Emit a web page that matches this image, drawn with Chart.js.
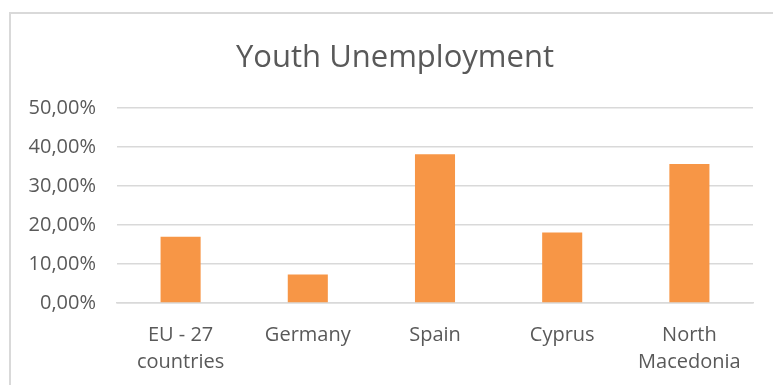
<!DOCTYPE html>
<html lang="en">
<head>
    <meta charset="UTF-8">
    <title>Youth Unemployment</title>
    <script src="https://cdn.jsdelivr.net/npm/chart.js"></script>
    <style>
        body {
            margin: 0;
            padding: 0;
            background: #ffffff;
            overflow: hidden;
        }
        .frame {
            position: absolute;
            left: 9px;
            top: 12px;
            width: 800px;
            height: 371px;
            border-left: 2px solid #d9d9d9;
            border-top: 2px solid #d9d9d9;
        }
        #youthChart {
            position: absolute;
            left: 0;
            top: 0;
        }
    </style>
</head>
<body>
    <div class="frame"></div>
    <!-- canvas runs past the window so the title centres on the full frame -->
    <canvas id="youthChart" width="790" height="385"></canvas>

    <script>
        // chart data
        const countries = [['EU - 27', 'countries'], 'Germany', 'Spain', 'Cyprus', ['North', 'Macedonia']];
        const unemploymentRate = [17.0, 7.3, 38.2, 18.1, 35.7];  // percent
        const yTicks = [0, 10, 20, 30, 40, 50];

        const textColor = '#595959';
        const gridColor = '#d9d9d9';

        function formatPercent(v) {
            return v.toFixed(2).replace('.', ',') + '%';
        }

        const ctx = document.getElementById('youthChart').getContext('2d');
        new Chart(ctx, {
            type: 'bar',
            data: {
                labels: countries,
                datasets: [{
                    label: 'Youth Unemployment',
                    data: unemploymentRate,
                    backgroundColor: '#f79646',
                    borderWidth: 0,
                    categoryPercentage: 1,
                    barPercentage: 0.315
                }]
            },
            options: {
                responsive: false,
                animation: false,
                layout: {
                    padding: 0
                },
                plugins: {
                    legend: { display: false },
                    tooltip: { enabled: false },
                    title: {
                        display: true,
                        text: 'Youth Unemployment',
                        color: textColor,
                        font: { family: 'Open Sans', size: 31, weight: 'normal' },
                        padding: { top: 40, bottom: 31 }
                    }
                },
                scales: {
                    x: {
                        grid: { display: false, drawTicks: false },
                        border: { color: gridColor, width: 1.5 },
                        ticks: {
                            color: textColor,
                            font: { family: 'Open Sans', size: 20, lineHeight: 1.35 },
                            padding: 19,
                            maxRotation: 0
                        },
                        afterFit: s => { s.height = 82; }
                    },
                    y: {
                        min: 0,
                        max: 50,
                        afterBuildTicks: s => { s.ticks = yTicks.map(v => ({ value: v })); },
                        grid: { color: gridColor, lineWidth: 1.5, drawTicks: false },
                        border: { display: false },
                        ticks: {
                            color: textColor,
                            font: { family: 'Open Sans', size: 20 },
                            padding: 21,
                            callback: v => formatPercent(v)
                        },
                        afterFit: s => { s.width = 117; }
                    },
                    // empty right-hand spacer keeps the plot ending at x=753
                    spacer: {
                        type: 'linear',
                        position: 'right',
                        grid: { display: false, drawTicks: false },
                        border: { display: false },
                        ticks: { display: false },
                        afterFit: s => { s.width = 37; }
                    }
                }
            }
        });
    </script>
</body>
</html>
